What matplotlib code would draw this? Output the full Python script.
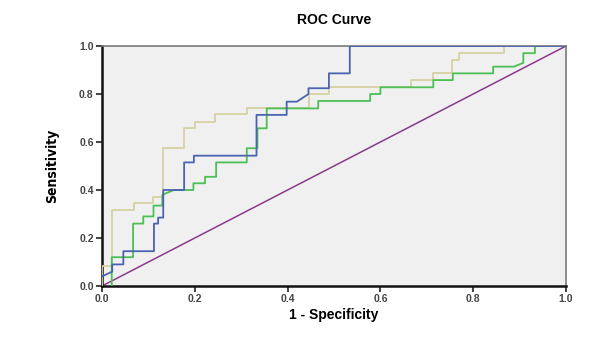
import matplotlib
matplotlib.use("Agg")
import matplotlib.pyplot as plt
from matplotlib import font_manager

# ROC step curves: (1 - specificity, sensitivity) vertices
blue_fpr = [0, 0.022, 0.022, 0.046, 0.046, 0.112, 0.112, 0.121, 0.121, 0.132, 0.132, 0.177, 0.177,
            0.198, 0.198, 0.333, 0.333, 0.398, 0.398, 0.42, 0.445, 0.445, 0.489, 0.489, 0.534, 0.534, 1.0]
blue_tpr = [0.04, 0.06, 0.09, 0.09, 0.145, 0.145, 0.26, 0.26, 0.285, 0.285, 0.40, 0.40, 0.515,
            0.515, 0.543, 0.543, 0.713, 0.713, 0.768, 0.768, 0.80, 0.824, 0.824, 0.886, 0.886, 1.0, 1.0]

green_fpr = [0.021, 0.021, 0.067, 0.067, 0.089, 0.089, 0.111, 0.111, 0.13, 0.13, 0.155, 0.197, 0.197,
             0.222, 0.222, 0.246, 0.246, 0.312, 0.312, 0.335, 0.335, 0.355, 0.355, 0.466, 0.466,
             0.578, 0.578, 0.60, 0.60, 0.714, 0.714, 0.756, 0.756, 0.843, 0.843, 0.888, 0.908,
             0.908, 0.933, 0.933, 1.0]
green_tpr = [0.0, 0.12, 0.12, 0.26, 0.26, 0.29, 0.29, 0.335, 0.335, 0.38, 0.40, 0.40, 0.428,
             0.428, 0.455, 0.455, 0.515, 0.515, 0.574, 0.574, 0.657, 0.657, 0.74, 0.74, 0.771,
             0.771, 0.80, 0.80, 0.828, 0.828, 0.858, 0.858, 0.886, 0.886, 0.914, 0.914, 0.93,
             0.97, 0.97, 1.0, 1.0]

beige_fpr = [0, 0, 0.021, 0.021, 0.068, 0.068, 0.11, 0.11, 0.132, 0.132, 0.177, 0.177, 0.2, 0.2,
             0.244, 0.244, 0.312, 0.312, 0.447, 0.447, 0.489, 0.489, 0.667, 0.667, 0.713, 0.713,
             0.754, 0.754, 0.77, 0.77, 0.866, 0.866, 1.0]
beige_tpr = [0, 0.085, 0.085, 0.317, 0.317, 0.345, 0.345, 0.372, 0.372, 0.574, 0.574, 0.657, 0.657,
             0.685, 0.685, 0.715, 0.715, 0.743, 0.743, 0.80, 0.80, 0.828, 0.828, 0.858, 0.858,
             0.886, 0.886, 0.94, 0.94, 0.97, 0.97, 1.0, 1.0]

ref_x = [0, 1]
ref_y = [0, 1]

ticks = [0.0, 0.2, 0.4, 0.6, 0.8, 1.0]
tick_labels = ["0.0", "0.2", "0.4", "0.6", "0.8", "1.0"]

# pick a condensed bold face for the vertical axis label if one is installed
narrow = None
for f in font_manager.fontManager.ttflist:
    name = f.fname.lower()
    if ("condensed" in name or "narrow" in name) and "bold" in name and "oblique" not in name \
            and "italic" not in name:
        narrow = f.fname
        break
ylabel_font = font_manager.FontProperties(fname=narrow, size=10) if narrow else \
    font_manager.FontProperties(family="Liberation Sans", weight="bold", size=9.5)

fig = plt.figure(figsize=(6.07, 3.40), dpi=100)
ax = fig.add_axes([102 / 607, 1 - 286 / 340, 464 / 607, 240 / 340])
ax.set_facecolor("#f0f0f0")

ax.plot(ref_x, ref_y, color="#8a3a8c", lw=1.1, zorder=2)
ax.plot(beige_fpr, beige_tpr, color="#d6d1a2", lw=1.3, zorder=3)
ax.plot(green_fpr, green_tpr, color="#4cbf55", lw=1.3, zorder=4)
ax.plot(blue_fpr, blue_tpr, color="#4a62b2", lw=1.3, zorder=5)

ax.set_xlim(0, 1)
ax.set_ylim(0, 1)
ax.set_xticks(ticks)
ax.set_yticks(ticks)
tick_font = dict(family="Liberation Sans", weight="bold", size=7.5, color="#444444")
ax.set_xticklabels(tick_labels, fontdict=tick_font)
ax.set_yticklabels(tick_labels, fontdict=tick_font)
ax.tick_params(direction="out", length=4, width=1.2, color="#222222", pad=2)

for side in ("left", "bottom"):
    ax.spines[side].set_color("#111111")
    ax.spines[side].set_linewidth(1.8)
for side in ("top", "right"):
    ax.spines[side].set_color("#7a7a7a")
    ax.spines[side].set_linewidth(1.2)

ax.set_title("ROC Curve", family="Liberation Sans", weight="bold", size=10, pad=16)
ax.set_xlabel("1 - Specificity", family="Liberation Sans", weight="bold", size=10, labelpad=3)
ax.set_ylabel("Sensitivity", fontproperties=ylabel_font, labelpad=14)

fig.savefig("out.png", dpi=100, facecolor="white")
